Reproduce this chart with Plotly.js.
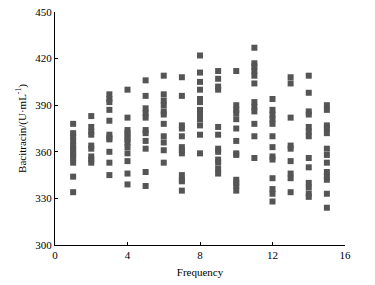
<!DOCTYPE html>
<html><head><meta charset="utf-8">
<script src="https://cdn.plot.ly/plotly-3.0.1.min.js"></script>
<style>html,body{margin:0;padding:0;background:#fff}</style>
</head><body><div id="chart" style="width:375px;height:285px"></div>
<script>
var frequencies = [1,2,3,4,5,6,7,8,9,10,11,12,13,14,15];
var f1 = [378,372,370,367,364,362,360,358,356,353,344,334];
var f2 = [383,376,373,371,364,362,357,355,353];
var f3 = [397,394,392,387,380,371,369,368,360,353,345];
var f4 = [400,382,374,372,370,368,366,363,359,354,346,339];
var f5 = [406,396,388,385,382,374,372,367,362,347,338];
var f6 = [409,397,393,390,386,384,378,370,366,361,353];
var f7 = [408,396,377,375,370,363,361,359,345,342,341,335];
var f8 = [422,411,405,400,394,392,387,385,383,381,377,371,359];
var f9 = [412,407,402,400,376,371,362,360,355,353,349,346];
var f10 = [412,390,387,385,381,375,367,359,358,342,340,338,335];
var f11 = [427,417,415,412,409,404,392,389,386,378,370,356];
var f12 = [394,387,384,381,378,370,363,357,355,343,336,333,328];
var f13 = [408,404,382,364,362,354,346,343,334];
var f14 = [409,398,386,384,376,373,370,356,350,340,337,333,331];
var f15 = [390,387,377,375,372,362,358,353,347,344,342,333,324];
var series = [f1,f2,f3,f4,f5,f6,f7,f8,f9,f10,f11,f12,f13,f14,f15];

var xs = [], ys = [];
series.forEach(function(vals, i){
  vals.forEach(function(v){ xs.push(frequencies[i]); ys.push(v); });
});

var trace = {
  x: xs, y: ys, type: 'scatter', mode: 'markers',
  marker: {symbol: 'square', size: 6, color: '#555555'},
  hoverinfo: 'none'
};
var fnt = {family: 'Liberation Serif, Times New Roman, serif', size: 11, color: '#000'};
var layout = {
  width: 375, height: 285,
  margin: {l: 55, r: 30, t: 12, b: 40},
  paper_bgcolor: '#fff', plot_bgcolor: '#fff',
  showlegend: false,
  font: fnt,
  xaxis: {
    range: [0, 16], tickvals: [0,4,8,12,16], ticktext: ['0','4','8','12','16'],
    showgrid: false, zeroline: false, showline: true, linecolor: '#000', linewidth: 1,
    ticks: 'inside', ticklen: 3, tickcolor: '#000', tickfont: fnt,
    title: {text: 'Frequency', font: fnt, standoff: 8}
  },
  yaxis: {
    range: [300, 450], tickvals: [300,330,360,390,420,450],
    showgrid: false, zeroline: false, showline: true, linecolor: '#000', linewidth: 1,
    ticks: 'inside', ticklen: 3, tickcolor: '#000', tickfont: fnt,
    title: {text: 'Bacitracin/(U·mL<sup>-1</sup>)', font: fnt, standoff: 6}
  }
};
Plotly.newPlot('chart', [trace], layout, {staticPlot: true, displayModeBar: false});
</script></body></html>
